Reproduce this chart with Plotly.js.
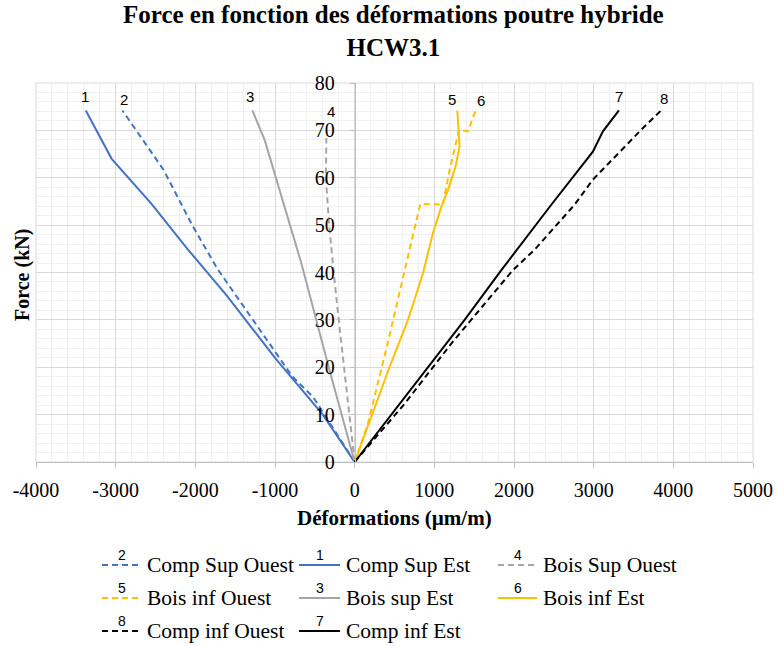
<!DOCTYPE html>
<html>
<head>
<meta charset="utf-8">
<script src="https://cdn.plot.ly/plotly-3.0.1.min.js"></script>
<style>html,body{margin:0;padding:0;background:#fff;}#chart{width:778px;height:646px;}</style>
</head>
<body>
<div id="chart"></div>
<script>
// ---- Data (strain in µm/m, force in kN) ----
const compSupEstX   = [0, -400, -1000, -1600, -2100, -2550, -3050, -3375];
const compSupEstY   = [0, 10, 22, 35, 45, 54.5, 64, 74.2];
const compSupOuestX = [0, -520, -780, -1720, -2030, -2400, -2915];
const compSupOuestY = [0, 13.7, 18, 40.7, 49.7, 61.7, 74.2];
const boisSupEstX   = [0, -310, -670, -1025, -1130, -1284];
const boisSupEstY   = [0, 19, 42, 62.4, 68, 74.2];
const boisSupOuestX = [0, -138, -200, -263, -320, -362, -355];
const boisSupOuestY = [0, 20, 30, 40, 50, 60, 68.4];
const boisInfOuestX = [0, 165, 420, 650, 735, 824, 1108, 1192, 1310, 1422, 1518];
const boisInfOuestY = [0, 8, 25.5, 42, 47.6, 54.5, 54.3, 61.7, 70.1, 69.8, 74.2];
const boisInfEstX   = [0, 209, 439, 669, 857, 982, 1088, 1171, 1267, 1317, 1300, 1288];
const boisInfEstY   = [0, 9.5, 20.1, 30, 39.8, 48.3, 53.9, 57.4, 62.4, 66.6, 70.1, 74.2];
const compInfEstX   = [0, 502, 982, 1380, 1841, 2468, 2990, 3116, 3317];
const compInfEstY   = [0, 10.9, 21.5, 30, 40.5, 54.3, 65.5, 69.8, 74.2];
const compInfOuestX = [0, 627, 1213, 1986, 2258, 2760, 2990, 3595, 3846];
const compInfOuestY = [0, 12.3, 25, 40.5, 44.8, 54.3, 59.6, 70.1, 74.2];

// Tick labels
const xTickVals = [-4000, -3000, -2000, -1000, 0, 1000, 2000, 3000, 4000, 5000];
const xTickText = ['-4000', '-3000', '-2000', '-1000', '0', '1000', '2000', '3000', '4000', '5000'];
const yTickVals = [0, 10, 20, 30, 40, 50, 60, 70, 80];

// Curve number labels (value coordinates)
const curveLabels  = ['1', '2', '3', '4', '5', '6', '7', '8'];
const curveLabelX  = [-3387, -2900, -1318, -292, 1217, 1581, 3312, 3877];
const curveLabelY  = [77.1, 76.5, 77.1, 74.0, 76.5, 76.3, 77.1, 76.7];

// Legend order and numbers
const legendNames   = ['Comp Sup Ouest', 'Comp Sup Est', 'Bois Sup Ouest',
                       'Bois inf Ouest', 'Bois sup Est', 'Bois inf Est',
                       'Comp inf Ouest', 'Comp inf Est'];
const legendNumbers = ['2', '1', '4', '5', '3', '6', '8', '7'];

const titleText = 'Force en fonction des déformations poutre hybride<br>HCW3.1';

const BLUE = '#4472C4', GRAY = '#A5A5A5', YELLOW = '#FFC000', BLACK = '#000000';
const DASH = '6px,4px';

const series = [
  {name: 'Comp Sup Ouest', x: compSupOuestX, y: compSupOuestY, color: BLUE,   dash: DASH},
  {name: 'Comp Sup Est',   x: compSupEstX,   y: compSupEstY,   color: BLUE,   dash: 'solid'},
  {name: 'Bois Sup Ouest', x: boisSupOuestX, y: boisSupOuestY, color: GRAY,   dash: DASH},
  {name: 'Bois inf Ouest', x: boisInfOuestX, y: boisInfOuestY, color: YELLOW, dash: DASH},
  {name: 'Bois sup Est',   x: boisSupEstX,   y: boisSupEstY,   color: GRAY,   dash: 'solid'},
  {name: 'Bois inf Est',   x: boisInfEstX,   y: boisInfEstY,   color: YELLOW, dash: 'solid'},
  {name: 'Comp inf Ouest', x: compInfOuestX, y: compInfOuestY, color: BLACK,  dash: DASH},
  {name: 'Comp inf Est',   x: compInfEstX,   y: compInfEstY,   color: BLACK,  dash: 'solid'}
];

const traces = series.map(s => ({
  type: 'scatter', mode: 'lines', name: s.name, x: s.x, y: s.y,
  line: {color: s.color, width: 2, dash: s.dash}, showlegend: false,
  hoverinfo: 'x+y+name'
}));

// ---- Layout geometry (pixels) ----
const W = 778, H = 646;
const L = 36, R = 753, T = 83, B = 462;
const px = v => (v - L) / (R - L);
const py = v => (B - v) / (B - T);
const SERIF = 'Liberation Serif, Times New Roman, serif';
const SANS = 'Liberation Sans, Arial, sans-serif';

const annotations = [];
const shapes = [
  {type: 'rect', xref: 'paper', yref: 'paper', x0: 0, x1: 1, y0: 0, y1: 1,
   line: {color: '#d9d9d9', width: 1}, layer: 'below'}
];

// title (one two-line text)
annotations.push({text: '<b>' + titleText + '</b>', xref: 'paper', yref: 'paper',
  x: px(393), y: py(31), xanchor: 'center', yanchor: 'middle', align: 'center',
  showarrow: false, font: {family: SERIF, size: 25, color: '#000'}});

curveLabels.forEach((t, i) => annotations.push({
  text: t, x: curveLabelX[i], y: curveLabelY[i], xref: 'x', yref: 'y',
  showarrow: false, xanchor: 'center', yanchor: 'middle',
  font: {family: SANS, size: 15, color: '#000'}
}));

// custom legend
const colLine = [[102, 141], [299, 340], [498, 537]];
const rowY = [565, 598, 631];
series.forEach((s, i) => {
  const r = Math.floor(i / 3), c = i % 3;
  const [x0, x1] = colLine[c];
  const y = rowY[r];
  shapes.push({type: 'line', xref: 'paper', yref: 'paper',
    x0: px(x0), x1: px(x1), y0: py(y), y1: py(y),
    line: {color: s.color, width: 2, dash: s.dash}});
  annotations.push({text: legendNumbers[i], xref: 'paper', yref: 'paper',
    x: px((x0 + x1) / 2), y: py(y - 10), xanchor: 'center', yanchor: 'middle',
    showarrow: false, font: {family: SANS, size: 14, color: '#000'}});
  annotations.push({text: legendNames[i], xref: 'paper', yref: 'paper',
    x: px(x1 + 4), y: py(y), xanchor: 'left', yanchor: 'middle',
    showarrow: false, font: {family: SERIF, size: 21.5, color: '#000'}});
});

// axis titles
annotations.push({text: '<b>Déformations (µm/m)</b>', xref: 'paper', yref: 'paper',
  x: 0.5, y: py(518), xanchor: 'center', yanchor: 'middle', showarrow: false,
  font: {family: SERIF, size: 21, color: '#000'}});
annotations.push({text: '<b>Force (kN)</b>', xref: 'paper', yref: 'paper',
  x: px(22), y: py(275), xanchor: 'center', yanchor: 'middle', textangle: -90,
  showarrow: false, font: {family: SERIF, size: 20, color: '#000'}});

const layout = {
  width: W, height: H,
  margin: {l: L, r: W - R, t: T, b: H - B, pad: 0},
  paper_bgcolor: '#fff', plot_bgcolor: '#fff',
  xaxis: {range: [-4000, 5000], tickmode: 'array', tickvals: xTickVals, ticktext: xTickText,
    showgrid: true, gridcolor: '#d9d9d9',
    gridwidth: 1, zeroline: false, showline: true, linecolor: '#bfbfbf', linewidth: 1,
    ticks: 'outside', ticklen: 5, tickcolor: '#bfbfbf', ticklabelstandoff: 5,
    tickfont: {family: SERIF, size: 20, color: '#000'},
    minor: {dtick: 200, showgrid: true, gridcolor: '#f0f0f0', gridwidth: 1}},
  yaxis: {range: [0, 80], tickmode: 'array', tickvals: yTickVals,
    showgrid: true, gridcolor: '#d9d9d9',
    gridwidth: 1, zeroline: false, showline: true, linecolor: '#bfbfbf', linewidth: 1,
    anchor: 'free', position: 4000 / 9000,
    ticks: 'outside', ticklen: 5, tickcolor: '#bfbfbf', ticklabelstandoff: 11,
    tickfont: {family: SERIF, size: 20, color: '#000'},
    minor: {dtick: 2, showgrid: true, gridcolor: '#f0f0f0', gridwidth: 1}},
  annotations: annotations,
  shapes: shapes,
  showlegend: false
};

Plotly.newPlot('chart', traces, layout, {displayModeBar: false, staticPlot: true});
</script>
</body>
</html>
